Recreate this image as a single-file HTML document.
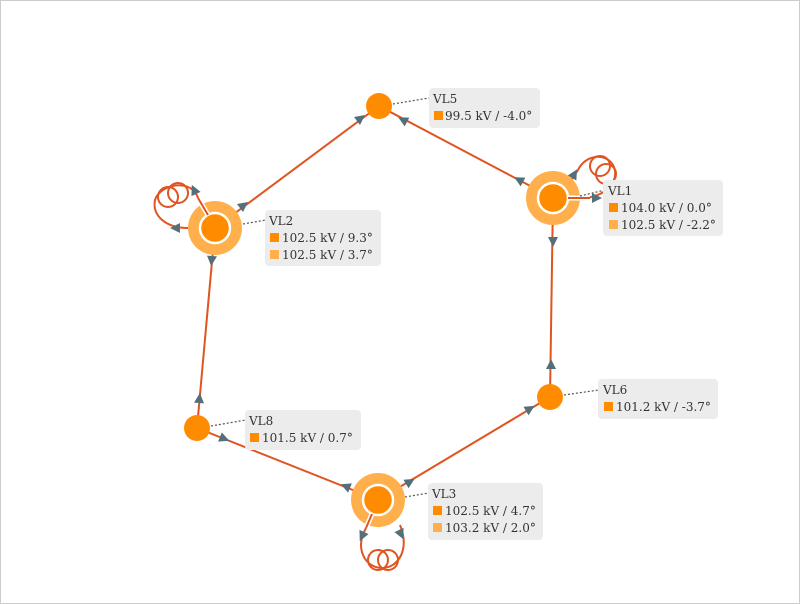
<!DOCTYPE html>
<html><head><style>
html,body{margin:0;padding:0;background:#fff}
svg{display:block}
text{font-family:"DejaVu Serif","Liberation Serif",serif;font-size:12px;fill:#333}
</style></head><body>
<svg width="800" height="604" viewBox="0 0 800 604" xmlns="http://www.w3.org/2000/svg">
<defs>
<marker id="a" viewBox="0 0 10 10" refX="5" refY="5" markerWidth="10" markerHeight="10" orient="auto"><path d="M0,0 L10,5 L0,10 z" fill="#546e7a"/></marker>
</defs>
<rect x="0.5" y="0.5" width="799" height="603" fill="#fff" stroke="#ccc"/>
<g stroke="#e0541f" stroke-width="2" fill="none">
<line x1="379" y1="106" x2="553" y2="198"/>
<line x1="379" y1="106" x2="215" y2="228"/>
<line x1="215" y1="228" x2="197" y2="428"/>
<line x1="197" y1="428" x2="378" y2="500"/>
<line x1="378" y1="500" x2="550" y2="397"/>
<line x1="550" y1="397" x2="553" y2="198"/>
<!-- loops -->
<path d="M207,214 L195,192 C185,180 160,185 155,200 C152,215 165,228 188,228"/>
<circle cx="168" cy="197" r="10"/><circle cx="178" cy="193" r="10"/>
<path d="M568,185 L578,170 C585,155 605,152 613,165 C620,178 610,195 585,198"/>
<circle cx="600" cy="166" r="10"/><circle cx="606" cy="174" r="10"/>
<path d="M372,516 L365,530 C355,548 365,568 382,568 C398,568 410,550 400,525"/>
<circle cx="378" cy="560" r="10"/><circle cx="388" cy="560" r="10"/>
</g>
<g fill="#546e7a">
<polygon points="0,-5 10,0 0,5" transform="translate(357,121) rotate(-37)"/>
<polygon points="0,-5 10,0 0,5" transform="translate(407,122) rotate(-152)"/>
<polygon points="0,-5 10,0 0,5" transform="translate(240,208) rotate(-37)"/>
<polygon points="0,-5 10,0 0,5" transform="translate(523,182) rotate(-152)"/>
<polygon points="0,-5 10,0 0,5" transform="translate(212,256) rotate(95)"/>
<polygon points="0,-5 10,0 0,5" transform="translate(199,403) rotate(-85)"/>
<polygon points="0,-5 10,0 0,5" transform="translate(220,437) rotate(22)"/>
<polygon points="0,-5 10,0 0,5" transform="translate(350,488) rotate(-158)"/>
<polygon points="0,-5 10,0 0,5" transform="translate(406,484) rotate(-31)"/>
<polygon points="0,-5 10,0 0,5" transform="translate(526,411) rotate(-31)"/>
<polygon points="0,-5 10,0 0,5" transform="translate(551,369) rotate(-90)"/>
<polygon points="0,-5 10,0 0,5" transform="translate(553,237) rotate(90)"/>
<polygon points="0,-5 10,0 0,5" transform="translate(196,194) rotate(-115)"/>
<polygon points="0,-5 10,0 0,5" transform="translate(180,228) rotate(180)"/>
<polygon points="0,-5 10,0 0,5" transform="translate(572,178) rotate(-60)"/>
<polygon points="0,-5 10,0 0,5" transform="translate(592,198) rotate(0)"/>
<polygon points="0,-5 10,0 0,5" transform="translate(364,532) rotate(115)"/>
<polygon points="0,-5 10,0 0,5" transform="translate(399,530) rotate(65)"/>
</g>
<!-- nodes -->
<circle cx="553" cy="198" r="27" fill="#ffb04c"/><circle cx="553" cy="198" r="15" fill="#ff8c00" stroke="#fff" stroke-width="2.5"/>
<line x1="568" y1="198" x2="590" y2="198" stroke="#fff" stroke-width="5"/><line x1="568" y1="198" x2="590" y2="198" stroke="#e0541f" stroke-width="2"/>
<circle cx="215" cy="228" r="27" fill="#ffb04c"/><circle cx="215" cy="228" r="15" fill="#ff8c00" stroke="#fff" stroke-width="2.5"/>
<line x1="208" y1="215" x2="198" y2="198" stroke="#fff" stroke-width="5"/><line x1="208" y1="215" x2="198" y2="198" stroke="#e0541f" stroke-width="2"/>
<circle cx="378" cy="500" r="27" fill="#ffb04c"/><circle cx="378" cy="500" r="15" fill="#ff8c00" stroke="#fff" stroke-width="2.5"/>
<line x1="372" y1="514" x2="366" y2="528" stroke="#fff" stroke-width="5"/><line x1="372" y1="514" x2="366" y2="528" stroke="#e0541f" stroke-width="2"/>
<circle cx="379" cy="106" r="13" fill="#ff8c00"/>
<circle cx="550" cy="397" r="13" fill="#ff8c00"/>
<circle cx="197" cy="428" r="13" fill="#ff8c00"/>
<!-- dotted leaders -->
<g stroke="#555" stroke-dasharray="2,2" stroke-width="1.2">
<line x1="393" y1="104" x2="429" y2="98"/>
<line x1="580" y1="196" x2="605" y2="190"/>
<line x1="243" y1="224" x2="266" y2="220"/>
<line x1="564" y1="395" x2="599" y2="390"/>
<line x1="211" y1="426" x2="246" y2="420"/>
<line x1="405" y1="497" x2="429" y2="493"/>
</g>
<!-- labels -->
<g fill="#ececec">
<rect x="429" y="88" width="111" height="40" rx="4"/>
<rect x="603" y="180" width="120" height="56" rx="4"/>
<rect x="265" y="210" width="116" height="56" rx="4"/>
<rect x="598" y="379" width="120" height="40" rx="4"/>
<rect x="245" y="410" width="116" height="40" rx="4"/>
<rect x="428" y="483" width="115" height="57" rx="4"/>
</g>
<text x="433" y="103">VL5</text>
<rect x="434" y="111" width="9" height="9" fill="#ff8c00"/><text x="445" y="120">99.5 kV / -4.0°</text>
<text x="608" y="195">VL1</text>
<rect x="609" y="203" width="9" height="9" fill="#ff8c00"/><text x="621" y="212">104.0 kV / 0.0°</text>
<rect x="609" y="220" width="9" height="9" fill="#ffb04c"/><text x="621" y="229">102.5 kV / -2.2°</text>
<text x="269" y="225">VL2</text>
<rect x="270" y="233" width="9" height="9" fill="#ff8c00"/><text x="282" y="242">102.5 kV / 9.3°</text>
<rect x="270" y="250" width="9" height="9" fill="#ffb04c"/><text x="282" y="259">102.5 kV / 3.7°</text>
<text x="603" y="394">VL6</text>
<rect x="604" y="402" width="9" height="9" fill="#ff8c00"/><text x="616" y="411">101.2 kV / -3.7°</text>
<text x="249" y="425">VL8</text>
<rect x="250" y="433" width="9" height="9" fill="#ff8c00"/><text x="262" y="442">101.5 kV / 0.7°</text>
<text x="432" y="498">VL3</text>
<rect x="433" y="506" width="9" height="9" fill="#ff8c00"/><text x="445" y="515">102.5 kV / 4.7°</text>
<rect x="433" y="523" width="9" height="9" fill="#ffb04c"/><text x="445" y="532">103.2 kV / 2.0°</text>
</svg>
</body></html>
